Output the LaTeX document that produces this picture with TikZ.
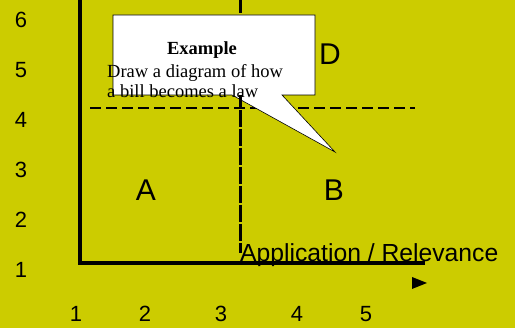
\documentclass[tikz,border=0pt]{standalone}
\usepackage{fontspec}
\setmainfont{Liberation Serif}
\newfontfamily\labelfont{Liberation Sans}
\definecolor{bgyellow}{RGB}{204,204,0}
\begin{document}
\begin{tikzpicture}[x=1pt, y=-1pt,
    axisline/.style={line width=3.5pt},
    hdash/.style={line width=2pt, dash pattern=on 11pt off 5pt},
    vdash/.style={line width=3pt, dash pattern=on 13pt off 6pt},
    ticklabel/.style={inner sep=0pt, font=\labelfont\fontsize{22}{26}\selectfont},
    quadlabel/.style={inner sep=0pt, font=\labelfont\fontsize{30}{36}\selectfont}]
    % Achtergrond
    \fill[bgyellow] (0,0) rectangle (515,328);
    \useasboundingbox (0,0) rectangle (515,328);

    % Punten
    \coordinate (O) at (80,263);
    \coordinate (T) at (80,0);
    \coordinate (E) at (425,263);
    \coordinate (HL) at (90,108);
    \coordinate (HR) at (415,108);
    \coordinate (VT) at (240,0);
    \coordinate (VM) at (240,95);
    \coordinate (VB) at (240,253);

    % Stippellijnen
    \draw[hdash] (HL) -- (HR);
    \draw[vdash] (VT) -- (VB);

    % Tekstballon
    \filldraw[fill=white, draw=black, line width=0.6pt]
        (113,15) -- (315,15) -- (315,95) -- (282,95) -- (335,152)
        -- (232,95) -- (113,95) -- cycle;
    \draw[vdash, dash phase=4pt] (VM) -- (VB);
    \node[anchor=base, inner sep=0pt, font=\fontsize{18.5}{22}\selectfont\bfseries]
        (extitle) at (202,55) {Example};
    \node[anchor=base west, inner sep=0pt, align=left, font=\fontsize{18.5}{20.5}\selectfont]
        (exbody) at (107,98) {Draw a diagram of how\\a bill becomes a law};

    % Assen
    \draw[axisline] (T) -- (O) -- (E);
    \fill (412,277) -- (427,283) -- (412,289) -- cycle;
    \node[anchor=base west, inner sep=0pt, font=\labelfont\fontsize{24.7}{29}\selectfont]
        (xtitle) at (240,262) {Application / Relevance};

    % Getallen
    \foreach \n/\y in {6/20,5/70,4/120,3/170,2/220,1/270}
        \node[ticklabel] (y\n) at (21,\y) {\n};
    \foreach \n/\x in {1/76,2/145,3/221,4/297,5/366}
        \node[ticklabel] (x\n) at (\x,314) {\n};

    % Kwadranten
    \node[quadlabel] (qa) at (146,190) {A};
    \node[quadlabel] (qb) at (334,190) {B};
    \node[quadlabel] (qd) at (330,54) {D};
\end{tikzpicture}
\end{document}
